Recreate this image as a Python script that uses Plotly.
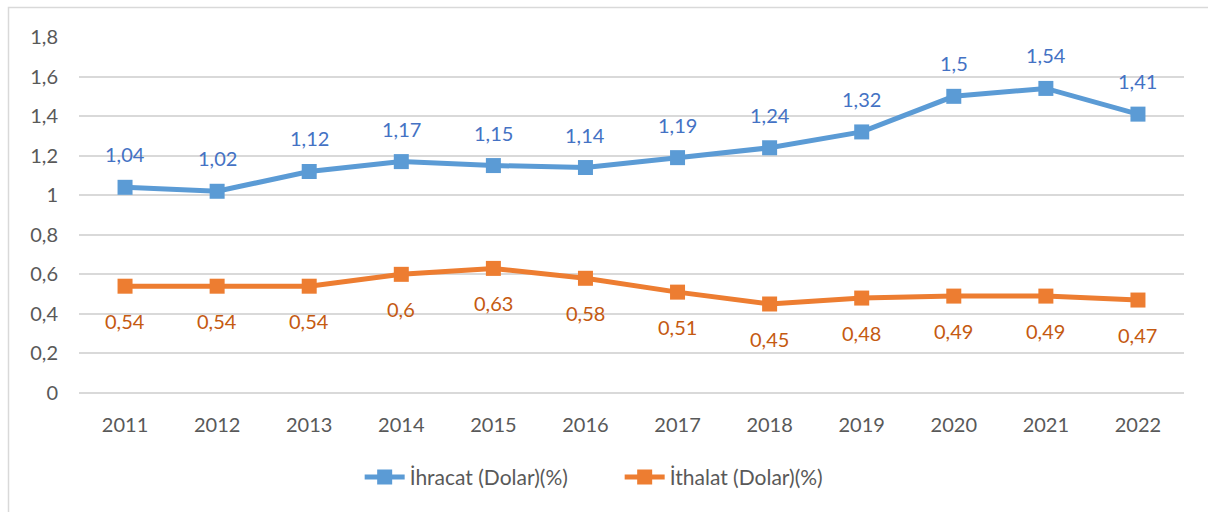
import plotly.graph_objects as go

years = ["2011", "2012", "2013", "2014", "2015", "2016", "2017", "2018", "2019", "2020", "2021", "2022"]
ihracat = [1.04, 1.02, 1.12, 1.17, 1.15, 1.14, 1.19, 1.24, 1.32, 1.5, 1.54, 1.41]
ithalat = [0.54, 0.54, 0.54, 0.6, 0.63, 0.58, 0.51, 0.45, 0.48, 0.49, 0.49, 0.47]
y_ticks = [0, 0.2, 0.4, 0.6, 0.8, 1, 1.2, 1.4, 1.6, 1.8]
y_tick_text = ["0", "0,2", "0,4", "0,6", "0,8", "1", "1,2", "1,4", "1,6", "1,8"]
names = ["İhracat (Dolar)(%)", "İthalat (Dolar)(%)"]

BLUE = "#5B9BD5"
ORANGE = "#ED7D31"
FONT = "Lato"

def fmt(v):
    s = ("%.2f" % v).rstrip("0").rstrip(".")
    return s.replace(".", ",")

fig = go.Figure()
fig.add_trace(go.Scatter(x=years, y=ihracat, name=names[0], mode="lines+markers",
                         line=dict(color=BLUE, width=5),
                         marker=dict(symbol="square", size=15, color=BLUE)))
fig.add_trace(go.Scatter(x=years, y=ithalat, name=names[1], mode="lines+markers",
                         line=dict(color=ORANGE, width=5),
                         marker=dict(symbol="square", size=15, color=ORANGE)))

ann = []
for i, v in enumerate(ihracat):
    ann.append(dict(x=i, y=v, xref="x", yref="y", text=fmt(v), showarrow=False, yshift=33,
                    font=dict(family=FONT, size=20, color="#4472C4")))
for i, v in enumerate(ithalat):
    ann.append(dict(x=i, y=v, xref="x", yref="y", text=fmt(v), showarrow=False, yshift=-35,
                    font=dict(family=FONT, size=20, color="#C55A11")))

fig.update_layout(
    width=1208, height=512,
    margin=dict(l=79, r=24, t=37, b=119),
    paper_bgcolor="white", plot_bgcolor="white",
    font=dict(family=FONT, size=20, color="#595959"),
    annotations=ann,
    showlegend=True,
    legend=dict(orientation="h", x=0.254, xanchor="left", y=-0.237, yanchor="middle",
                font=dict(family=FONT, size=21, color="#595959"), itemwidth=40,
                entrywidth=205, entrywidthmode="pixels"),
    shapes=[dict(type="rect", xref="paper", yref="paper", x0=-0.0638, x1=1.05, y0=-0.5, y1=1.0827,
                 line=dict(color="#D9D9D9", width=1.5), layer="below")],
)
fig.update_xaxes(type="category", range=[-0.5, 11.5], showgrid=False, showline=False,
                 ticks="", tickfont=dict(size=20, color="#595959"), ticklabelstandoff=18)
fig.update_yaxes(range=[0, 1.8], tickvals=y_ticks, ticktext=y_tick_text, showgrid=True,
                 gridcolor="#D9D9D9", gridwidth=2, zeroline=True, zerolinecolor="#D9D9D9",
                 zerolinewidth=2, showline=False, ticks="", tickfont=dict(size=20, color="#595959"),
                 ticklabelstandoff=20)

fig.write_html("out.html", config={"displayModeBar": False},
               post_script="document.body.style.margin='0';document.body.style.overflow='hidden';")
